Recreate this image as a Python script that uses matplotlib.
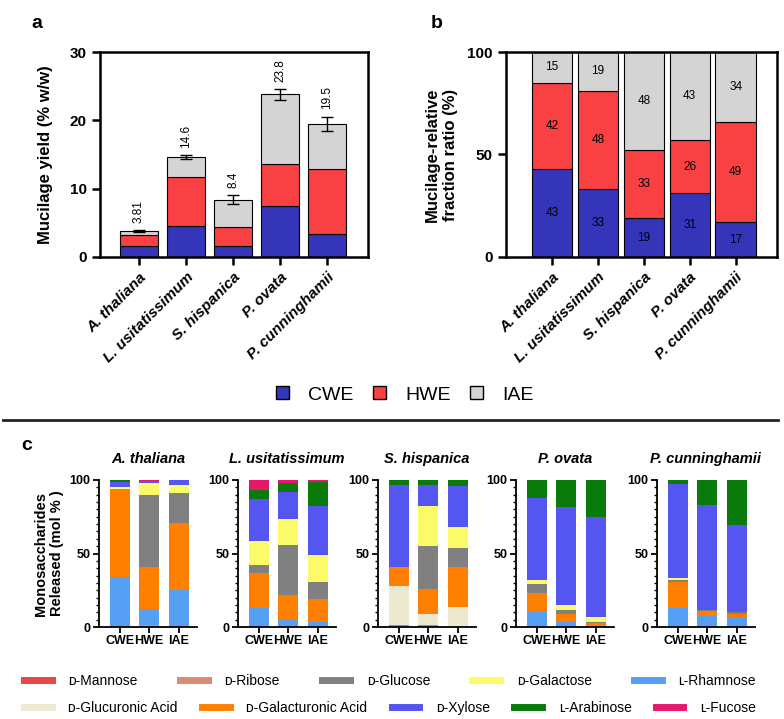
import numpy as np
import matplotlib
matplotlib.use("Agg")
import matplotlib.pyplot as plt
from matplotlib.lines import Line2D
from matplotlib.patches import Patch

plt.rcParams['font.family'] = ['Liberation Sans', 'DejaVu Sans']

# ---- panel a / b data ----
species = ["A. thaliana", "L. usitatissimum", "S. hispanica", "P. ovata", "P. cunninghamii"]
fractions = ["CWE", "HWE", "IAE"]
frac_colors = ["#3535BA", "#F94144", "#D4D4D4"]

yield_cwe = [1.6, 4.6, 1.6, 7.4, 3.3]
yield_hwe = [1.6, 7.1, 2.8, 6.2, 9.6]
yield_iae = [0.61, 2.9, 4.0, 10.2, 6.6]
yield_total = [3.81, 14.6, 8.4, 23.8, 19.5]
yield_err = [0.1, 0.27, 0.6, 0.76, 1.0]

ratio_cwe = [43, 33, 19, 31, 17]
ratio_hwe = [42, 48, 33, 26, 49]
ratio_iae = [15, 19, 48, 43, 34]

# ---- panel c data (mol %), each row = [CWE, HWE, IAE] ----
sugars = ["ᴅ-Mannose", "ᴅ-Ribose", "ʟ-Rhamnose", "ᴅ-Glucuronic Acid", "ᴅ-Galacturonic Acid",
          "ᴅ-Glucose", "ᴅ-Galactose", "ᴅ-Xylose", "ʟ-Arabinose", "ʟ-Fucose"]
sugar_colors = ["#E84545", "#D98B75", "#55A0F5", "#EDE8D0", "#FF8000",
                "#808080", "#FBFB6A", "#5555F2", "#0A7A0A", "#E8176E"]

a_thaliana = [[0.3, 0.3, 0.3], [0.2, 1.0, 0.4], [33.5, 10.7, 24.3], [0, 0, 0], [60.0, 29.0, 46.0],
              [0, 48.8, 20.4], [1.5, 7.9, 5.0], [3.0, 1.3, 3.3], [1.5, 0.5, 0.0], [0, 0.5, 0.3]]
l_usitatissimum = [[0, 0, 0], [0, 0, 0], [13.2, 5.2, 3.6], [0, 0, 0], [23.6, 16.8, 15.7],
                   [5.2, 34.1, 11.2], [16.4, 17.5, 18.4], [28.4, 18.2, 33.4], [6.4, 5.9, 16.1], [6.8, 2.3, 1.6]]
s_hispanica = [[0, 0, 0], [0, 0, 0], [1.1, 1.6, 0.3], [26.9, 7.0, 13.6], [12.5, 17.1, 26.8],
               [0, 29.1, 12.9], [0, 27.5, 14.1], [56.1, 14.5, 28.2], [3.4, 3.2, 4.1], [0, 0, 0]]
p_ovata = [[0, 0, 0], [0, 0, 0], [10.9, 3.2, 0.5], [0, 0, 0], [12.5, 5.4, 2.0],
           [5.7, 3.2, 1.1], [2.7, 3.2, 3.0], [55.7, 66.4, 68.4], [12.5, 18.6, 25.0], [0, 0, 0]]
p_cunninghamii = [[0, 0, 0], [0, 0, 0], [13.2, 7.3, 6.8], [0, 0, 0], [17.3, 3.6, 1.8],
                  [1.8, 0.9, 1.6], [1.3, 0, 0], [63.7, 71.2, 58.9], [2.7, 17.0, 30.9], [0, 0, 0]]
mono_data = [a_thaliana, l_usitatissimum, s_hispanica, p_ovata, p_cunninghamii]

W, H = 784, 719
fig = plt.figure(figsize=(W / 100, H / 100), dpi=100)


def fx(px):
    return px / W


def fy(px):
    return 1 - px / H


def style_box(ax):
    for s in ax.spines.values():
        s.set_linewidth(1.8)
    ax.tick_params(width=1.8, length=6, labelsize=11)
    for lab in ax.get_yticklabels():
        lab.set_fontweight('bold')
    ax.set_xticks(range(len(species)))
    ax.set_xticklabels(species, rotation=45, ha='right', rotation_mode='anchor',
                       fontweight='bold', fontstyle='italic', fontsize=11)


# ---- panel a ----
ax_a = fig.add_axes([fx(100), fy(257), fx(268), 205 / H])
x = np.arange(len(species))
bottom = np.zeros(len(species))
for vals, col in zip([yield_cwe, yield_hwe, yield_iae], frac_colors):
    ax_a.bar(x, vals, 0.81, bottom=bottom, color=col, edgecolor='black', linewidth=0.8)
    bottom += np.array(vals)
ax_a.errorbar(x, yield_total, yerr=yield_err, fmt='none', ecolor='black', capsize=4, elinewidth=1, capthick=1)
for xi, t, e in zip(x, yield_total, yield_err):
    ax_a.text(xi, t + e + 1.1, f"{t:g}", rotation=90, ha='center', va='bottom', fontsize=8.5)
ax_a.set_xlim(-0.83, 4.87)
ax_a.set_ylim(0, 30)
ax_a.set_yticks([0, 10, 20, 30])
style_box(ax_a)
ax_a.set_ylabel("Mucilage yield (% w/w)", fontsize=12, fontweight='bold', labelpad=12)

# ---- panel b ----
ax_b = fig.add_axes([fx(506), fy(257), fx(271), 205 / H])
bottom = np.zeros(len(species))
for vals, col in zip([ratio_cwe, ratio_hwe, ratio_iae], frac_colors):
    ax_b.bar(x, vals, 0.88, bottom=bottom, color=col, edgecolor='black', linewidth=0.8)
    for xi, b, v in zip(x, bottom, vals):
        ax_b.text(xi, b + v / 2, f"{v}", ha='center', va='center', fontsize=8.5)
    bottom += np.array(vals)
ax_b.set_xlim(-1.0, 4.9)
ax_b.set_ylim(0, 100)
ax_b.set_yticks([0, 50, 100])
style_box(ax_b)
ax_b.set_ylabel("Mucilage-relative\nfraction ratio (%)", fontsize=12, fontweight='bold', labelpad=7)

fig.text(fx(37), fy(23), "a", fontsize=14, fontweight='bold', ha='center', va='center')
fig.text(fx(437), fy(23), "b", fontsize=14, fontweight='bold', ha='center', va='center')

# fraction legend
frac_handles = [Patch(facecolor=c, edgecolor='black', linewidth=1) for c in frac_colors]
fig.legend(frac_handles, fractions, loc='center', bbox_to_anchor=(fx(405), fy(395)), ncol=3,
           frameon=False, fontsize=14, handlelength=0.65, handleheight=0.65, handletextpad=1.0,
           columnspacing=1.0)

# separator line
fig.add_artist(Line2D([fx(3), fx(778)], [fy(420), fy(420)], color='#222222', linewidth=2))
fig.text(fx(27), fy(446), "c", fontsize=14, fontweight='bold', ha='center', va='center')

# ---- panel c ----
lefts = [99, 238, 378, 516, 657]
for i, (name, data, left) in enumerate(zip(species, mono_data, lefts)):
    ax = fig.add_axes([fx(left), fy(627), fx(98), 147 / H])
    xs = np.arange(3)
    bot = np.zeros(3)
    for vals, col in zip(data, sugar_colors):
        ax.bar(xs, vals, 0.68, bottom=bot, color=col, linewidth=0)
        bot += np.array(vals)
    ax.set_xlim(-0.7, 2.62)
    ax.set_ylim(0, 100)
    ax.set_yticks([0, 50, 100])
    ax.set_yticks(np.arange(0, 101, 5), minor=True)
    ax.set_xticks(xs)
    ax.set_xticklabels(fractions, fontsize=8, fontweight='bold')
    ax.spines['top'].set_visible(False)
    ax.spines['right'].set_visible(False)
    for s in ['left', 'bottom']:
        ax.spines[s].set_linewidth(1.3)
    ax.tick_params(axis='both', which='major', width=1.3, length=4, labelsize=9, pad=2)
    ax.tick_params(axis='y', which='minor', width=1, length=2.5)
    for lab in ax.get_yticklabels():
        lab.set_fontweight('bold')
    ax.set_title(name, fontsize=10.5, fontweight='bold', fontstyle='italic', pad=12)
    if i == 0:
        ax.set_ylabel("Monosaccharides\nReleased (mol % )", fontsize=10.5, fontweight='bold', labelpad=4)

# sugar legends, two justified rows
row1 = [0, 1, 5, 6, 2]
row2 = [3, 4, 7, 8, 9]
for idx, ypx in [(row1, 681), (row2, 708)]:
    handles = [Line2D([0], [0], color=sugar_colors[k], linewidth=5) for k in idx]
    labels = [sugars[k] for k in idx]
    fig.legend(handles, labels, loc='center left', bbox_to_anchor=(fx(24), fy(ypx), fx(732), 0),
               mode='expand', ncol=5, frameon=False, fontsize=10, handlelength=2.0,
               handletextpad=1.2, borderaxespad=0, borderpad=0)

fig.savefig("out.png", dpi=100)
